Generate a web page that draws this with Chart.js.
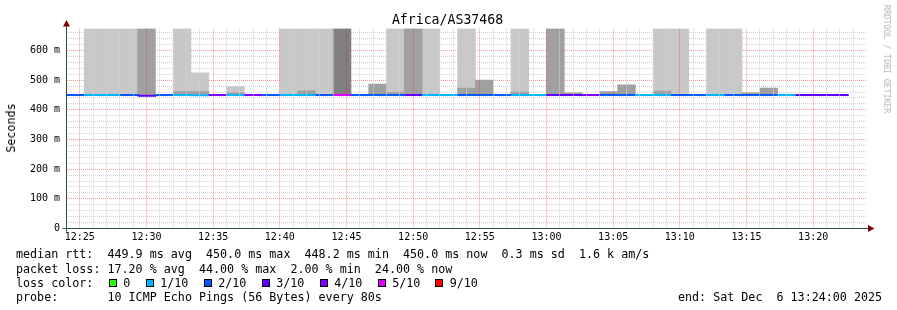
<!DOCTYPE html>
<html>
<head>
<meta charset="utf-8">
<title>Africa/AS37468</title>
<script src="https://cdn.jsdelivr.net/npm/chart.js@4.4.1/dist/chart.umd.min.js"></script>
<style>
  html, body { margin: 0; padding: 0; background: #fff; }
  #wrap { position: relative; width: 897px; height: 310px; overflow: hidden; background: #fff; }
  #wrap canvas { position: absolute; left: 0; top: 0; }
  .txt { position: absolute; font-family: "DejaVu Sans Mono", monospace; white-space: pre; color: #000; }
  .leg { font-size: 11.7px; line-height: 14px; }
  .box { position: absolute; width: 8px; height: 8px; box-sizing: border-box; border: 1px solid #000; }
</style>
</head>
<body>
<div id="wrap">
  <canvas id="chart" width="897" height="310"></canvas>
  <div class="txt" id="title" style="left:447.5px;top:11.7px;font-size:13.2px;line-height:16px;transform:translateX(-50%)">Africa/AS37468</div>
  <div class="txt" id="ylabel" style="left:10.5px;top:127.5px;font-size:11.7px;line-height:14px;transform-origin:0 0;transform:rotate(-90deg) translate(-50%,-50%)">Seconds</div>
  <div class="txt" id="mark" style="left:887px;top:59px;font-size:8.2px;line-height:10px;color:#b4b4b4;transform-origin:0 0;transform:rotate(90deg) translate(-50%,-50%)">RRDTOOL / TOBI OETIKER</div>
  <div id="legend"></div>
</div>
<script>
// smokeping graph, 10 pings every 80 s
const graphStart = '12:24';
const graphEnd = '13:24';
const stepStart = '12:24:00';
const stepSeconds = 80;

const xTickLabels = ['12:25', '12:30', '12:35', '12:40', '12:45', '12:50',
                     '12:55', '13:00', '13:05', '13:10', '13:15', '13:20'];
const yTickLabels = ['0', '100 m', '200 m', '300 m', '400 m', '500 m', '600 m'];
const yMax = 674;

// median rtt per step (ms)
const medianRtt = [
  450, 450, 450, 450, 447, 450, 450, 449, 450, 450,
  450, 450, 450, 450, 450, 450, 450, 450, 450, 450,
  450, 450, 450, 450, 450, 450, 450, 450, 450, 450,
  450, 450, 450, 450, 450, 450, 450, 450, 450, 450,
  450, 450, 450, 450
];

// lost pings per step (out of 10)
const lossTenths = [
  2, 1, 1, 2, 3, 2, 1, 1, 4, 1,
  4, 2, 1, 1, 2, 5, 2, 2, 2, 3,
  1, 1, 2, 2, 2, 1, 1, 3, 3, 4,
  2, 2, 1, 1, 2, 2, 1, 2, 2, 2,
  1, 3, 3, 3
];

// smoke: top of each grey band (ms), null where there is none
const smokeLight = [
  null, 674, 674, 674, null, null, 674, 525, null, 478,
  null, null, 674, 674, 674, null, null, null, 674, null,
  674, null, 674, null, null, 674, null, null, null, null,
  null, null, null, 674, 674, null, 674, 674, null, null,
  null, null, null, null
];
const smokeMid = [
  null, null, null, null, 674, null, 461, 461, null, 457,
  null, null, null, 464, null, null, null, 487, 458, 674,
  null, null, 473, 500, null, 460, null, 674, 457, null,
  461, 484, null, 463, null, null, null, null, 457, 473,
  null, null, null, null
];
const smokeDark = [
  null, null, null, null, null, null, null, null, null, null,
  null, null, null, null, null, 674, null, null, null, null,
  null, null, null, null, null, null, null, null, null, null,
  null, null, null, null, null, null, null, null, null, null,
  null, null, null, null
];

const lossColors = { 0: '#26ff00', 1: '#00b8ff', 2: '#0059ff', 3: '#5e00ff', 4: '#7e00ff', 5: '#dd00ff', 9: '#ff0000' };
const lossLegend = [0, 1, 2, 3, 4, 5, 9];

const legendLines = [
  'median rtt:  449.9 ms avg  450.0 ms max  448.2 ms min  450.0 ms now  0.3 ms sd  1.6 k am/s',
  'packet loss: 17.20 % avg  44.00 % max  2.00 % min  24.00 % now',
  'loss color:',
  'probe:       10 ICMP Echo Pings (56 Bytes) every 80s'
];
const endLabel = 'end: Sat Dec  6 13:24:00 2025';

function toMin(t) {
  const p = t.split(':').map(Number);
  return p[0] * 60 + p[1] + (p[2] || 0) / 60;
}
const t0 = toMin(graphStart);
const span = toMin(graphEnd) - t0;
const stepMin = stepSeconds / 60;
const firstStep = toMin(stepStart) - t0;
const xMajor = xTickLabels.map(l => toMin(l) - t0);

function smokeBars(tops) {
  const pts = [];
  tops.forEach((top, i) => {
    if (top != null) pts.push({ x: firstStep + (i + 0.5) * stepMin, y: [medianRtt[i], top] });
  });
  return pts;
}

const medianPts = medianRtt.map((v, i) => ({ x: firstStep + i * stepMin, y: v }));
// repeat the last value so the final step gets its full width
medianPts.push({ x: firstStep + medianRtt.length * stepMin, y: medianRtt[medianRtt.length - 1] });

const minorGrid = '#d2d2d2';
const majorGrid = 'rgba(255, 0, 0, 0.42)';

// vertical grid: a dotted line every minute, red on the labelled ones
const minuteGrid = {
  id: 'minuteGrid',
  afterDatasetsDraw(chart) {
    const { ctx, chartArea: a, scales } = chart;
    ctx.save();
    ctx.lineWidth = 1;
    ctx.setLineDash([1, 1]);
    [false, true].forEach(major => {
      ctx.strokeStyle = major ? majorGrid : minorGrid;
      ctx.beginPath();
      for (let m = 1; m < span; m++) {
        if (xMajor.includes(m) !== major) continue;
        const px = Math.floor(scales.x.getPixelForValue(m)) + 0.5;
        ctx.moveTo(px, a.top);
        ctx.lineTo(px, a.bottom);
      }
      ctx.stroke();
    });
    ctx.restore();
  }
};

const axisArrows = {
  id: 'axisArrows',
  afterDraw(chart) {
    const { ctx, chartArea: a } = chart;
    ctx.save();
    ctx.strokeStyle = '#2c4d43';
    ctx.lineWidth = 1;
    ctx.beginPath();
    ctx.moveTo(a.left, a.bottom + 3);
    ctx.lineTo(a.left, a.top - 4);
    ctx.moveTo(a.left - 4, a.bottom);
    ctx.lineTo(a.right + 3, a.bottom);
    ctx.stroke();
    ctx.fillStyle = '#7f0000';
    ctx.beginPath();
    ctx.moveTo(a.left - 3.5, a.top - 2);
    ctx.lineTo(a.left + 3.5, a.top - 2);
    ctx.lineTo(a.left, a.top - 8.5);
    ctx.closePath();
    ctx.fill();
    ctx.beginPath();
    ctx.moveTo(a.right + 1.5, a.bottom - 3.5);
    ctx.lineTo(a.right + 1.5, a.bottom + 3.5);
    ctx.lineTo(a.right + 8, a.bottom);
    ctx.closePath();
    ctx.fill();
    ctx.restore();
  }
};

const mono = { family: 'DejaVu Sans Mono', size: 10 };
const smokeOpts = { type: 'bar', xAxisID: 'x', borderWidth: 0, grouped: false, barPercentage: 1, categoryPercentage: 1 };

new Chart(document.getElementById('chart'), {
  data: {
    datasets: [
      {
        type: 'line',
        data: medianPts,
        xAxisID: 'x',
        stepped: true,
        borderWidth: 2,
        pointRadius: 0,
        borderCapStyle: 'butt',
        borderColor: lossColors[lossTenths[0]],
        segment: { borderColor: c => lossColors[lossTenths[c.p0DataIndex]] },
        order: 0
      },
      Object.assign({ data: smokeBars(smokeDark), backgroundColor: '#808080', order: 1 }, smokeOpts),
      Object.assign({ data: smokeBars(smokeMid), backgroundColor: '#a0a0a0', order: 2 }, smokeOpts),
      Object.assign({ data: smokeBars(smokeLight), backgroundColor: '#c8c8c8', order: 3 }, smokeOpts)
    ]
  },
  options: {
    responsive: false,
    animation: false,
    devicePixelRatio: 1,
    layout: { padding: { left: 0, top: 28.5, right: 30.5, bottom: 61.5 } },
    plugins: { legend: { display: false }, tooltip: { enabled: false }, title: { display: false } },
    scales: {
      x: {
        type: 'linear', position: 'bottom', min: 0, max: span, z: 1, offset: false,
        afterBuildTicks: s => { s.ticks = xMajor.map(v => ({ value: v })); },
        afterFit: s => { s.height = 20; },
        grid: { display: false, drawTicks: false, offset: false },
        border: { display: false },
        ticks: {
          autoSkip: false, maxRotation: 0, padding: 3, color: '#000', font: mono,
          callback: v => { const i = xMajor.indexOf(v); return i >= 0 ? xTickLabels[i] : ''; }
        }
      },
      y: {
        type: 'linear', min: 0, max: yMax, z: 1, stacked: false,
        afterBuildTicks: s => {
          const t = [];
          for (let v = 0; v < yMax; v += 20) t.push({ value: v });
          s.ticks = t;
        },
        afterFit: s => { s.width = 66.5; },
        grid: {
          drawTicks: false, lineWidth: 1,
          color: c => c.tick.value % 100 === 0 ? majorGrid : minorGrid
        },
        border: { display: false, dash: [1, 1] },
        ticks: {
          autoSkip: false, padding: 6.5, color: '#000', font: mono,
          callback: v => { const l = yTickLabels.find(s => parseFloat(s) === v); return l || ''; }
        }
      }
    }
  },
  plugins: [minuteGrid, axisArrows]
});

// text legend under the graph
const legend = document.getElementById('legend');
const lineTops = [247.3, 261.5, 275.8, 290.2];
legendLines.forEach((t, i) => {
  const d = document.createElement('div');
  d.className = 'txt leg';
  d.style.left = '16px';
  d.style.top = lineTops[i] + 'px';
  d.textContent = t;
  legend.appendChild(d);
});
const endDiv = document.createElement('div');
endDiv.className = 'txt leg';
endDiv.style.left = '678px';
endDiv.style.top = lineTops[3] + 'px';
endDiv.textContent = endLabel;
legend.appendChild(endDiv);

const boxLefts = [108.5, 145.5, 203.5, 261.5, 319.5, 377.5, 435];
lossLegend.forEach((n, i) => {
  const b = document.createElement('div');
  b.className = 'box';
  b.style.left = boxLefts[i] + 'px';
  b.style.top = '279px';
  b.style.background = lossColors[n];
  legend.appendChild(b);
  const l = document.createElement('div');
  l.className = 'txt leg';
  l.style.left = (boxLefts[i] + 14.7) + 'px';
  l.style.top = lineTops[2] + 'px';
  l.textContent = n === 0 ? '0' : n + '/10';
  legend.appendChild(l);
});
</script>
</body>
</html>
